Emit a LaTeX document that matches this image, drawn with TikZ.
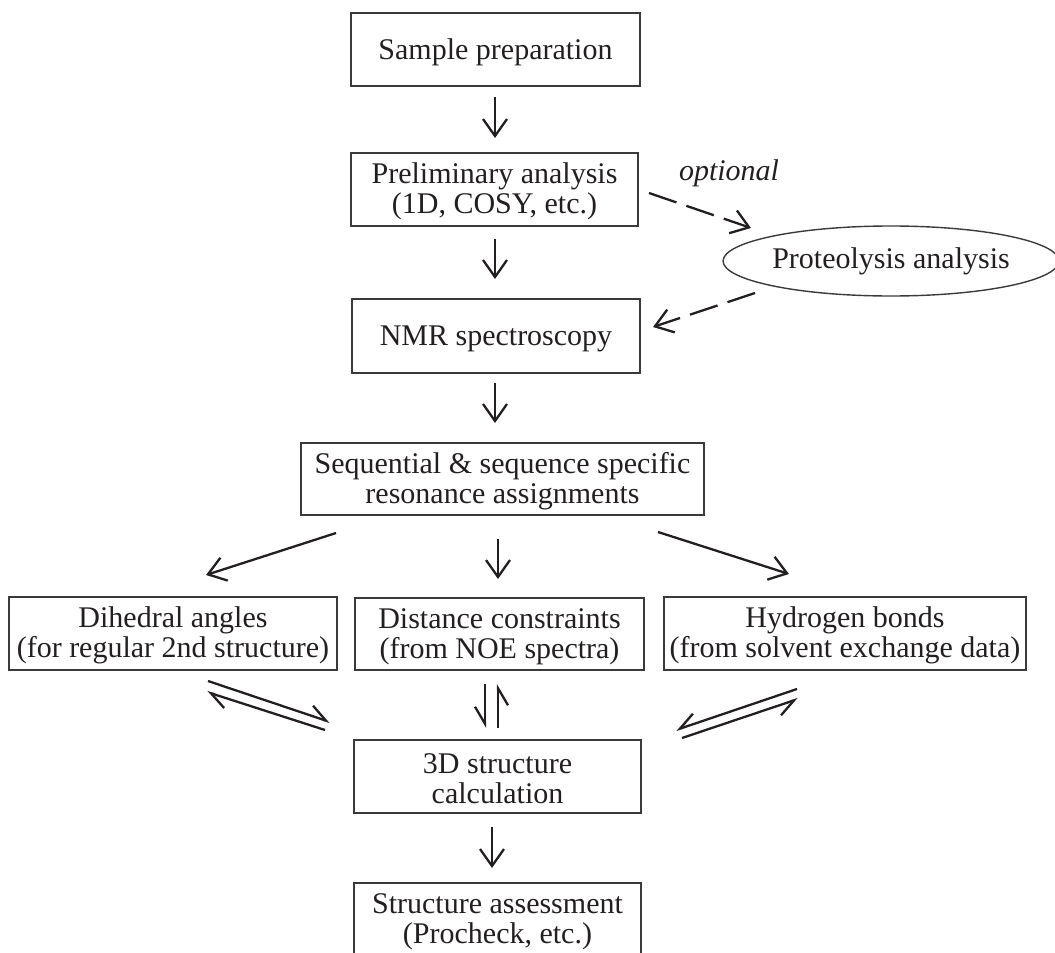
\documentclass[tikz,border=0pt]{standalone}
\usepackage{fontspec}
\setmainfont{Liberation Serif}
\usetikzlibrary{arrows.meta,shapes.geometric}
\definecolor{ink}{HTML}{231F20}
\definecolor{frame}{HTML}{3A3A3A}
\newcommand\myup{\rule{0pt}{25pt}}
\begin{document}
\begin{tikzpicture}[x=1pt,y=-1pt,
  font=\fontsize{30}{30}\selectfont, text=ink,
  box/.style={draw=frame, line width=1.6pt, rectangle, inner sep=0pt, align=center},
  one/.style={box, text depth=0pt},
  oval/.style={draw=frame, line width=1.4pt, ellipse, inner sep=0pt},
  arr/.style={draw=ink, line width=2.3pt, -{Straight Barb[length=17pt,width=24pt]}},
  darr/.style={arr, dash pattern=on 29pt off 10.5pt},
  hl/.style={draw=ink, line width=2.3pt, -{Straight Barb[left,length=17pt,width=20pt]}},
  hr/.style={draw=ink, line width=2.3pt, -{Straight Barb[right,length=17pt,width=20pt]}}
]
\useasboundingbox (0,0) rectangle (1055,953);

\node[one, minimum width=289pt, minimum height=73pt] (sp) at (495.5,49.5) {Sample preparation};
\node[box, minimum width=287pt, minimum height=73pt] (pa) at (494.5,189.5) {\myup Preliminary analysis\\(1D, COSY, etc.)};
\node[one, minimum width=288pt, minimum height=74pt] (nmr) at (496,336) {NMR spectroscopy};
\node[box, minimum width=403pt, minimum height=72pt] (seq) at (502.5,479) {\myup Sequential \& sequence specific\\resonance assignments};
\node[box, minimum width=328pt, minimum height=73pt] (dih) at (173,633.5) {\myup Dihedral angles\\(for regular 2nd structure)};
\node[box, minimum width=289pt, minimum height=72pt] (dist) at (499.5,634) {\myup Distance constraints\\(from NOE spectra)};
\node[box, minimum width=362pt, minimum height=73pt] (hyd) at (845,633.5) {\myup Hydrogen bonds\\(from solvent exchange data)};
\node[box, minimum width=287pt, minimum height=73pt] (calc) at (497.5,776.5) {\myup 3D structure\\calculation};
\node[box, minimum width=287pt, minimum height=73pt] (assess) at (497.5,919.5) {\myup Structure assessment\\(Procheck, etc.)};
\node[oval, minimum width=332pt, minimum height=70pt] (prot) at (891,261) {Proteolysis analysis};
\node[anchor=base, font=\fontsize{30}{30}\selectfont\itshape] (opt) at (729,180) {optional};

% vertical flow arrows
\coordinate (a1s) at (495,97);  \coordinate (a1e) at (495,138);
\coordinate (a2s) at (495,239); \coordinate (a2e) at (495,279);
\coordinate (a3s) at (495,383); \coordinate (a3e) at (495,423);
\coordinate (a4s) at (498,539); \coordinate (a4e) at (498,579);
\coordinate (a5s) at (492,827); \coordinate (a5e) at (492,868);
\draw[arr] (a1s) -- (a1e);
\draw[arr] (a2s) -- (a2e);
\draw[arr] (a3s) -- (a3e);
\draw[arr] (a4s) -- (a4e);
\draw[arr] (a5s) -- (a5e);

% diagonal arrows from assignments
\coordinate (dls) at (336,533); \coordinate (dle) at (206,575);
\coordinate (drs) at (658,532); \coordinate (dre) at (789,574);
\draw[arr] (dls) -- (dle);
\draw[arr] (drs) -- (dre);

% optional branch
\coordinate (o1s) at (649,193); \coordinate (o1e) at (751,228);
\coordinate (o2s) at (755,293); \coordinate (o2e) at (653,327);
\draw[darr] (o1s) -- (o1e);
\draw[darr] (o2s) -- (o2e);

% equilibrium harpoons
\coordinate (h1s) at (208,681); \coordinate (h1e) at (330,722);
\coordinate (h2s) at (325,730); \coordinate (h2e) at (207,692);
\draw[hl] (h1s) -- (h1e);
\draw[hl] (h2s) -- (h2e);
\coordinate (v1s) at (485,684); \coordinate (v1e) at (485,728);
\coordinate (v2s) at (498,728); \coordinate (v2e) at (498,684);
\draw[hr] (v1s) -- (v1e);
\draw[hr] (v2s) -- (v2e);
\coordinate (k1s) at (797,689); \coordinate (k1e) at (676,730);
\coordinate (k2s) at (682,738); \coordinate (k2e) at (798,699);
\draw[hr] (k1s) -- (k1e);
\draw[hr] (k2s) -- (k2e);
\end{tikzpicture}
\end{document}
